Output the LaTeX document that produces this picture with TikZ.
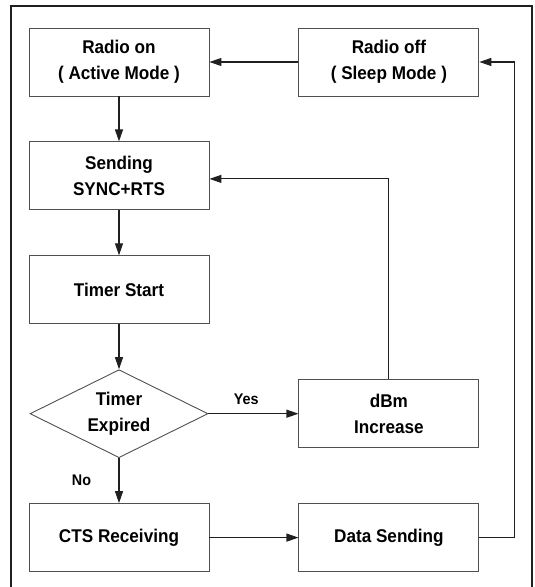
\documentclass[tikz,border=0pt]{standalone}
\usepackage{fontspec}
\setmainfont{Liberation Sans}[FakeStretch=0.93]
\usetikzlibrary{positioning, arrows.meta, shapes.geometric}
\definecolor{boxgray}{HTML}{505050}
\definecolor{linegray}{HTML}{202020}

\begin{document}
\begin{tikzpicture}[x=1bp, y=1bp, font=\bfseries\fontsize{18.5}{26}\selectfont, node distance=45bp and 89bp,
    state/.style={draw=boxgray, line width=0.9bp, minimum width=180bp, minimum height=68bp, align=center, inner sep=2bp},
    check/.style={draw=boxgray, line width=0.9bp, diamond, aspect=2, minimum width=178bp, minimum height=88bp, align=center, inner sep=0pt},
    flow/.style={draw=linegray, line width=1.1bp, -{Triangle[length=12bp, width=8bp]}},
    tag/.style={font=\bfseries\fontsize{15.5}{18}\selectfont}]
    \useasboundingbox (0,0) rectangle (535,587);
    \draw[draw=linegray, line width=1.1bp] (11,-5) rectangle (532,581);

    \node[state] (on) at (119,525) {Radio on\\( Active Mode )};
    \node[state, right=of on] (off) {Radio off\\( Sleep Mode )};
    \node[state, below=of on] (send) {Sending\\SYNC+RTS};
    \node[state, below=of send] (timer) {Timer Start};
    \node[check, below=of timer] (dec) {Timer\\Expired};
    \node[state, right=90bp of dec] (dbm) {dBm\\Increase};
    \node[state, below=of dec] (cts) {CTS Receiving};
    \node[state, right=of cts] (data) {Data Sending};
    \coordinate[right=35bp of data.east] (loop);

    \draw[flow] (off) -- (on);
    \draw[flow] (on) -- (send);
    \draw[flow] (send) -- (timer);
    \draw[flow] (timer) -- (dec);
    \draw[flow] (dec) -- node[tag, left=24bp] {No} (cts);
    \draw[flow] (dec) -- node[tag, above=5bp, pos=0.42] {Yes} (dbm);
    \draw[flow] (dbm.north) |- ([yshift=-3bp]send.east);
    \draw[flow] (cts) -- (data);
    \draw[flow] (data.east) -- (loop) |- (off.east);
\end{tikzpicture}
\end{document}
